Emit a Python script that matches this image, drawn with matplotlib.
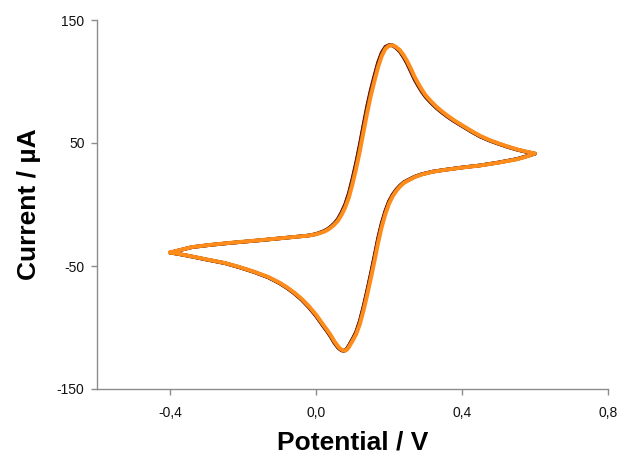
import matplotlib
matplotlib.use("Agg")
import matplotlib.pyplot as plt

plt.rcParams['font.family'] = ['Liberation Sans', 'DejaVu Sans']

# Potential grid, V: forward sweep (-0.4 -> 0.6) and reverse sweep (0.6 -> -0.4)
potential_fwd = [
    -0.40, -0.34, -0.29, -0.24, -0.15, -0.06, -0.02, 0.00,
    0.02, 0.03, 0.04, 0.05, 0.06, 0.07, 0.08, 0.09,
    0.10, 0.11, 0.12, 0.13, 0.14, 0.15, 0.16, 0.17,
    0.18, 0.19, 0.20, 0.21, 0.22, 0.23, 0.24, 0.25,
    0.26, 0.27, 0.28, 0.29, 0.30, 0.315, 0.33, 0.345,
    0.36, 0.38, 0.40, 0.425, 0.45, 0.475, 0.50, 0.525,
    0.55, 0.575, 0.60,
]
potential_rev = [
    0.575, 0.55, 0.50, 0.45, 0.40, 0.35, 0.32, 0.29,
    0.27, 0.26, 0.25, 0.24, 0.23, 0.22, 0.21, 0.20,
    0.19, 0.18, 0.17, 0.16, 0.15, 0.14, 0.13, 0.12,
    0.11, 0.10, 0.095, 0.09, 0.085, 0.08, 0.075, 0.07,
    0.065, 0.06, 0.05, 0.04, 0.03, 0.02, 0.01, 0.00,
    -0.02, -0.04, -0.06, -0.08, -0.10, -0.13, -0.17, -0.21,
    -0.25, -0.30, -0.34, -0.37, -0.40,
]

# Currents, µA
fwd_black = [
    -39.1, -34.7, -32.9, -31.4, -29.0, -26.4, -25.2, -24.1,
    -21.9, -20.5, -18.3, -15.7, -12.1, -6.9, -0.4, 8.4,
    20.0, 33.0, 47.4, 63.2, 78.4, 91.9, 103.5, 114.6,
    122.8, 127.8, 129.5, 129.4, 127.4, 124.5, 120.1, 114.9,
    108.6, 102.2, 96.9, 92.1, 87.9, 83.0, 78.7, 75.0,
    71.6, 67.6, 64.0, 59.5, 55.3, 52.1, 49.4, 46.9,
    44.7, 42.9, 41.3,
]
rev_black = [
    39.0, 36.9, 34.1, 31.8, 30.1, 28.1, 26.7, 24.6,
    22.5, 21.0, 19.5, 17.8, 15.2, 11.9, 7.7, 2.2,
    -5.8, -15.9, -28.4, -43.2, -57.4, -71.1, -83.9, -95.3,
    -104.0, -109.8, -112.4, -115.0, -117.3, -118.6, -118.9, -118.5,
    -117.4, -116.0, -112.0, -107.0, -102.7, -98.7, -94.5, -90.3,
    -83.2, -77.1, -72.0, -67.6, -63.9, -59.3, -54.8, -51.0,
    -47.65, -44.75, -42.3, -40.6, -39.1,
]
fwd_red = [
    -39.1, -34.7, -32.9, -31.4, -29.0, -26.4, -25.2, -24.0,
    -21.8, -20.3, -18.1, -15.4, -11.7, -6.3, 0.3, 9.3,
    21.2, 34.3, 48.9, 64.7, 79.9, 93.2, 104.7, 115.6,
    123.5, 128.2, 129.6, 129.3, 127.2, 124.2, 119.7, 114.3,
    108.0, 101.6, 96.4, 91.6, 87.5, 82.7, 78.4, 74.8,
    71.4, 67.4, 63.8, 59.3, 55.2, 52.0, 49.3, 46.8,
    44.6, 42.8, 41.3,
]
rev_red = [
    39.1, 37.0, 34.2, 31.8, 30.1, 28.1, 26.8, 24.7,
    22.6, 21.1, 19.6, 18.0, 15.4, 12.2, 8.1, 2.7,
    -5.1, -15.0, -27.3, -42.1, -56.4, -70.1, -83.0, -94.6,
    -103.5, -109.4, -112.0, -114.7, -117.1, -118.6, -118.9, -118.6,
    -117.6, -116.3, -112.4, -107.4, -103.0, -99.0, -94.8, -90.6,
    -83.5, -77.3, -72.2, -67.8, -64.0, -59.4, -54.9, -51.1,
    -47.7, -44.8, -42.35, -40.65, -39.1,
]
fwd_green = [
    -39.0, -34.6, -32.8, -31.3, -28.9, -26.4, -25.2, -24.1,
    -22.1, -20.6, -18.5, -15.9, -12.5, -7.4, -1.1, 7.4,
    18.8, 31.6, 46.0, 61.6, 77.0, 90.6, 102.3, 113.5,
    122.0, 127.3, 129.3, 129.4, 127.6, 124.8, 120.6, 115.4,
    109.2, 102.8, 97.4, 92.5, 88.2, 83.3, 78.9, 75.3,
    71.8, 67.8, 64.1, 59.6, 55.5, 52.2, 49.5, 47.0,
    44.7, 42.9, 41.4,
]
rev_green = [
    38.9, 36.9, 34.1, 31.8, 30.0, 28.0, 26.7, 24.5,
    22.4, 20.8, 19.3, 17.6, 14.9, 11.6, 7.3, 1.6,
    -6.5, -16.7, -29.4, -44.3, -58.4, -72.0, -84.7, -96.0,
    -104.5, -110.2, -112.7, -115.3, -117.5, -118.7, -118.8, -118.3,
    -117.2, -115.7, -111.7, -106.7, -102.4, -98.4, -94.2, -90.0,
    -83.0, -76.9, -71.8, -67.5, -63.7, -59.2, -54.7, -50.9,
    -47.6, -44.7, -42.3, -40.6, -39.0,
]
fwd_orange = [
    -39.0, -34.6, -32.8, -31.3, -28.9, -26.4, -25.3, -24.2,
    -22.4, -21.0, -19.0, -16.5, -13.3, -8.5, -2.5, 5.5,
    16.5, 29.0, 43.0, 58.5, 74.0, 88.0, 100.0, 111.5,
    120.5, 126.5, 129.0, 129.5, 128.0, 125.5, 121.5, 116.5,
    110.5, 104.0, 98.5, 93.5, 89.0, 84.0, 79.5, 75.8,
    72.3, 68.2, 64.5, 60.0, 55.8, 52.5, 49.7, 47.2,
    44.9, 43.1, 41.5,
]
rev_orange = [
    38.8, 36.7, 34.0, 31.7, 30.0, 28.0, 26.6, 24.4,
    22.2, 20.6, 19.1, 17.3, 14.5, 11.0, 6.5, 0.5,
    -8.0, -18.5, -31.5, -46.5, -60.5, -74.0, -86.5, -97.5,
    -105.5, -111.0, -113.5, -116.0, -117.9, -118.8, -118.7, -118.0,
    -116.8, -115.2, -111.0, -106.0, -101.8, -97.8, -93.6, -89.5,
    -82.5, -76.5, -71.5, -67.2, -63.5, -59.0, -54.6, -50.8,
    -47.5, -44.6, -42.2, -40.5, -39.0,
]

series = [
    (fwd_black, rev_black, "#1a1a1a", 2.6),
    (fwd_red, rev_red, "#8b0000", 2.6),
    (fwd_green, rev_green, "#2e7d32", 2.3),
    (fwd_orange, rev_orange, "#ff8c1a", 2.8),
]

x_ticks = [-0.4, 0.0, 0.4, 0.8]
x_tick_labels = ["-0,4", "0,0", "0,4", "0,8"]
y_ticks = [-150, -50, 50, 150]
y_tick_labels = ["-150", "-50", "50", "150"]

fig = plt.figure(figsize=(6.24, 4.57), dpi=100)
ax = fig.add_axes([97 / 624, 1 - 389 / 457, (608 - 97) / 624, (389 - 20) / 457])

potential = potential_fwd + potential_rev
for fwd, rev, col, lw in series:
    ax.plot(potential, fwd + rev, color=col, lw=lw, solid_joinstyle='round',
            solid_capstyle='round')

ax.set_xlim(-0.6, 0.8)
ax.set_ylim(-150, 150)
ax.set_xticks(x_ticks)
ax.set_xticklabels(x_tick_labels)
ax.set_yticks(y_ticks)
ax.set_yticklabels(y_tick_labels)

for s in ['top', 'right']:
    ax.spines[s].set_visible(False)
for s in ['left', 'bottom']:
    ax.spines[s].set_color('#8c8c8c')
    ax.spines[s].set_linewidth(1.0)

ax.tick_params(axis='both', direction='out', length=4, width=1.0,
               color='#8c8c8c', labelsize=10, labelcolor='#111111')
ax.tick_params(axis='y', pad=5)
ax.tick_params(axis='x', pad=8)

ax.set_xlabel("Potential / V", fontsize=19, fontweight='bold', labelpad=8)
ax.set_ylabel("Current / µA", fontsize=19, fontweight='bold', labelpad=11)

fig.savefig("out.png", dpi=100)
